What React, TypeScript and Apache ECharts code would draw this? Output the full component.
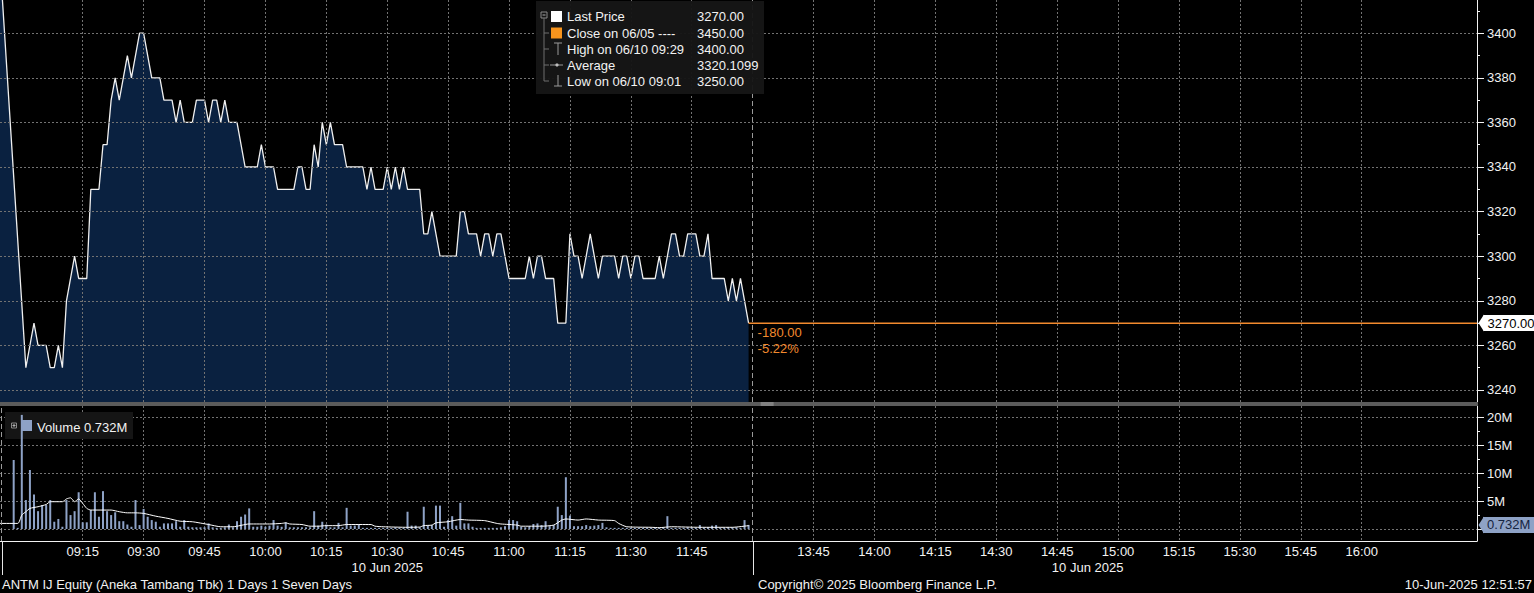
import React, { useEffect, useRef } from 'react';
import * as echarts from 'echarts';

// ---------- data ----------
const TIME_LABELS = ['09:15', '09:30', '09:45', '10:00', '10:15', '10:30', '10:45', '11:00', '11:15', '11:30', '11:45',
  '13:45', '14:00', '14:15', '14:30', '14:45', '15:00', '15:15', '15:30', '15:45', '16:00'];
const PRICE_TICKS = [3240, 3260, 3280, 3300, 3320, 3340, 3360, 3380, 3400];
const VOLUME_TICKS = [0, 5, 10, 15, 20]; // millions

const PREV_CLOSE = 3450; // close on 06/05
const AVERAGE_PRICE = 3320.1099;

const PRICE_POINTS: [string, number][] = [
  ['09:01', 3250], ['09:03', 3270], ['09:04', 3260], ['09:06', 3260], ['09:07', 3250], ['09:08', 3250], ['09:09', 3260], ['09:10', 3250], ['09:11', 3280], ['09:13', 3300],
  ['09:14', 3290], ['09:16', 3290], ['09:17', 3330], ['09:19', 3330], ['09:20', 3350], ['09:21', 3350], ['09:22', 3370], ['09:23', 3380], ['09:24', 3370], ['09:26', 3390],
  ['09:27', 3380], ['09:29', 3400], ['09:30', 3400], ['09:32', 3380], ['09:34', 3380], ['09:35', 3370], ['09:37', 3370], ['09:38', 3360], ['09:39', 3370], ['09:40', 3360],
  ['09:42', 3360], ['09:43', 3370], ['09:45', 3370], ['09:46', 3360], ['09:47', 3370], ['09:48', 3370], ['09:49', 3360], ['09:50', 3370], ['09:51', 3360], ['09:53', 3360],
  ['09:55', 3340], ['09:58', 3340], ['09:59', 3350], ['10:00', 3340], ['10:02', 3340], ['10:03', 3330], ['10:07', 3330], ['10:08', 3340], ['10:09', 3340], ['10:10', 3330],
  ['10:11', 3330], ['10:12', 3350], ['10:13', 3340], ['10:14', 3360], ['10:15', 3350], ['10:16', 3360], ['10:17', 3350], ['10:19', 3350], ['10:20', 3340], ['10:24', 3340],
  ['10:25', 3330], ['10:26', 3340], ['10:27', 3330], ['10:29', 3330], ['10:30', 3340], ['10:31', 3330], ['10:32', 3340], ['10:33', 3330], ['10:34', 3340], ['10:35', 3330],
  ['10:38', 3330], ['10:39', 3310], ['10:40', 3310], ['10:41', 3320], ['10:43', 3300], ['10:47', 3300], ['10:48', 3320], ['10:49', 3320], ['10:50', 3310], ['10:52', 3310],
  ['10:53', 3300], ['10:54', 3310], ['10:55', 3310], ['10:56', 3300], ['10:57', 3310], ['10:58', 3310], ['11:00', 3290], ['11:04', 3290], ['11:05', 3300], ['11:06', 3290],
  ['11:07', 3300], ['11:08', 3300], ['11:09', 3290], ['11:11', 3290], ['11:12', 3270], ['11:14', 3270], ['11:15', 3310], ['11:16', 3300], ['11:17', 3300], ['11:18', 3290],
  ['11:20', 3310], ['11:22', 3290], ['11:23', 3300], ['11:26', 3300], ['11:27', 3290], ['11:28', 3300], ['11:29', 3300], ['11:30', 3290], ['11:31', 3300], ['11:32', 3300],
  ['11:33', 3290], ['11:36', 3290], ['11:37', 3300], ['11:38', 3290], ['11:39', 3300], ['11:40', 3310], ['11:41', 3310], ['11:42', 3300], ['11:43', 3300], ['11:44', 3310],
  ['11:46', 3310], ['11:47', 3300], ['11:48', 3300], ['11:49', 3310], ['11:50', 3290], ['11:53', 3290], ['11:54', 3280], ['11:55', 3290], ['11:56', 3280], ['11:57', 3290],
  ['11:59', 3270],
];

const VOLUME_START = '08:58';
const VOLUME_VALUES = [ // millions, one bar per minute
  12.4, 0.2, 20.5, 5.2, 10.6, 6.2, 3.2, 4.3, 4.3, 5.2,
  1.3, 1.8, 0.4, 5.2, 2.5, 3.2, 6.6, 1.2, 1.2, 3.4,
  6.6, 2.2, 6.8, 3.2, 2.5, 3.0, 1.4, 1.4, 0.8, 0.4,
  5.2, 0.7, 3.6, 2.2, 1.6, 1.3, 0.4, 1.0, 1.0, 1.0,
  1.4, 0.4, 1.6, 0.4, 0.3, 0.3, 0.3, 0.3, 1.0, 0.3,
  0.2, 0.2, 0.3, 0.8, 0.3, 1.4, 2.2, 2.6, 3.7, 0.4,
  0.4, 0.6, 0.4, 0.6, 1.6, 0.6, 0.4, 1.2, 0.3, 0.3,
  0.3, 0.3, 0.3, 0.3, 3.2, 0.6, 1.3, 0.8, 0.3, 0.3,
  1.1, 0.3, 3.8, 0.6, 0.6, 0.8, 0.2, 0.2, 0.2, 0.2,
  0.2, 0.2, 0.2, 0.2, 0.3, 0.2, 0.2, 3.1, 0.6, 0.6,
  0.3, 4.0, 0.6, 0.7, 4.2, 4.2, 0.4, 1.6, 2.3, 0.6,
  4.7, 1.0, 1.0, 0.4, 0.2, 0.2, 0.2, 0.2, 0.2, 0.2,
  0.3, 0.5, 1.6, 1.6, 1.4, 0.4, 0.3, 0.5, 0.9, 1.0,
  0.7, 1.4, 0.5, 0.7, 4.0, 2.5, 9.3, 2.4, 0.5, 0.5,
  0.5, 0.7, 0.5, 0.6, 0.7, 1.1, 0.3, 0.2, 0.2, 0.2,
  0.2, 0.2, 0.2, 0.2, 0.2, 0.2, 0.2, 0.2, 0.2, 0.2,
  0.2, 2.3, 0.2, 0.2, 0.2, 0.2, 0.3, 0.2, 0.2, 0.7,
  0.2, 0.3, 0.6, 0.7, 0.2, 0.2, 0.3, 0.3, 0.3, 0.2,
  1.6, 0.732,
];

const AVG_VOLUME_POINTS: [string, number][] = [
  ['08:54', 1.0], ['08:59', 1.0], ['09:00', 2.5], ['09:01', 3.1], ['09:02', 3.7], ['09:04', 4.0], ['09:06', 4.4], ['09:07', 4.9], ['09:10', 4.9], ['09:11', 5.4],
  ['09:12', 5.6], ['09:13', 4.9], ['09:14', 5.4], ['09:15', 4.6], ['09:16', 3.7], ['09:17', 3.4], ['09:22', 3.4], ['09:24', 3.1], ['09:26', 2.9], ['09:28', 2.9],
  ['09:30', 2.8], ['09:33', 2.3], ['09:36', 1.9], ['09:39', 1.4], ['09:42', 1.3], ['09:46', 0.8], ['09:49', 0.4], ['09:52', 0.4], ['09:56', 0.9], ['10:01', 0.9],
  ['10:04', 1.0], ['10:05', 1.1], ['10:06', 0.9], ['10:09', 0.8], ['10:11', 0.5], ['10:13', 0.5], ['10:15', 0.6], ['10:18', 0.6], ['10:20', 0.8], ['10:26', 0.8],
  ['10:27', 0.5], ['10:29', 0.4], ['10:35', 0.3], ['10:38', 0.35], ['10:39', 0.6], ['10:41', 0.7], ['10:42', 1.1], ['10:45', 1.3], ['10:48', 1.7], ['10:50', 1.6],
  ['10:54', 1.5], ['10:57', 1.0], ['10:58', 0.9], ['11:02', 0.7], ['11:03', 0.5], ['11:08', 0.5], ['11:11', 0.7], ['11:13', 1.6], ['11:14', 1.8], ['11:17', 1.6],
  ['11:19', 1.8], ['11:22', 1.6], ['11:26', 1.5], ['11:27', 1.0], ['11:29', 0.4], ['11:35', 0.3], ['11:37', 0.24], ['11:40', 0.4], ['11:47', 0.3], ['11:55', 0.3],
  ['11:59', 0.6],
];

// ---------- styling / layout ----------
const FONT = '"Liberation Sans", Arial, Helvetica, sans-serif';
const WHITE = '#f2f2f2';
const GRID_LINE = '#727272';
const ORANGE = '#f28a2e';
const VOL_BLUE = '#8ea2c6';
const AREA = '#0a2140';
const BREAK_LINE = '#9a9a9a';

const X_MIN = -5.37; // view extent in session minutes
const X_MAX = 358.4;
const PREV_CLOSE_SLOT = -6; // last slot of the previous session (06/05)
const DAY_BREAK_SLOT = -5;
const P_MIN = 3234.6;
const P_MAX = 3414.9;
const V_MIN = -2.16;
const V_MAX = 22.1;

const clock = (t: string) => {
  const [h, m] = t.split(':').map(Number);
  return h * 60 + m;
};
// minutes since 09:00, the afternoon session (13:30) joined right after the morning one
const slot = (t: string) => {
  const c = clock(t);
  return c >= clock('13:30') ? 180 + (c - clock('13:30')) : c - clock('09:00');
};

const X_TICKS = TIME_LABELS.map(slot);
const SESSION_BREAK_SLOT = slot('13:30');

const LAST_PRICE = PRICE_POINTS[PRICE_POINTS.length - 1][1];
const LAST_SLOT = slot(PRICE_POINTS[PRICE_POINTS.length - 1][0]);
const HIGH = PRICE_POINTS.reduce((a, b) => (b[1] > a[1] ? b : a));
const LOW = PRICE_POINTS.reduce((a, b) => (b[1] < a[1] ? b : a));
const LAST_VOLUME = VOLUME_VALUES[VOLUME_VALUES.length - 1];
const VOL_START_SLOT = slot(VOLUME_START);
const LAST_VOL_SLOT = VOL_START_SLOT + VOLUME_VALUES.length - 1;

function buildOption() {
  const axisText = { color: WHITE, fontSize: 13, fontFamily: FONT };
  const dotted = { color: GRID_LINE, type: [2, 2], width: 1 };
  const breakLine = { color: BREAK_LINE, type: [5, 3], width: 1 };
  const gridBase = { left: 0, right: 57, outerBoundsMode: 'none', containLabel: false };
  const priceData = [[PREV_CLOSE_SLOT, PREV_CLOSE], ...PRICE_POINTS.map(([t, v]) => [slot(t), v])];
  const volData = VOLUME_VALUES.map((v, i) => [VOL_START_SLOT + i, v]);
  const avgData = AVG_VOLUME_POINTS.map(([t, v]) => [slot(t), v]);
  const xFormatter = (v: number) => {
    const i = X_TICKS.indexOf(v);
    return i >= 0 ? TIME_LABELS[i] : '';
  };
  const hiddenLine = { color: 'rgba(0,0,0,0)', width: 0, type: 'solid' };

  return {
    animation: false,
    backgroundColor: '#000',
    grid: [
      { ...gridBase, top: 0, height: 402 },
      { ...gridBase, top: 406, height: 135 },
      { ...gridBase, top: 0, height: 402 },
      { ...gridBase, top: 406, height: 135 },
    ],
    xAxis: [
      {
        type: 'value', gridIndex: 0, min: X_MIN, max: X_MAX, z: 3,
        axisLine: { show: false, onZero: false },
        axisTick: { show: false, customValues: X_TICKS },
        axisLabel: { show: false, customValues: X_TICKS },
        splitLine: { show: true, lineStyle: dotted },
      },
      {
        type: 'value', gridIndex: 1, min: X_MIN, max: X_MAX, z: 1, position: 'bottom',
        axisLine: { show: true, onZero: false, lineStyle: { color: WHITE, width: 1 } },
        axisTick: { show: false, customValues: X_TICKS },
        axisLabel: { ...axisText, customValues: X_TICKS, formatter: xFormatter, margin: 4 },
        splitLine: { show: true, lineStyle: dotted },
      },
      { type: 'value', gridIndex: 2, min: X_MIN, max: X_MAX, show: false },
      { type: 'value', gridIndex: 3, min: X_MIN, max: X_MAX, show: false },
    ],
    yAxis: [
      {
        type: 'value', gridIndex: 0, position: 'right', min: P_MIN, max: P_MAX, z: 3,
        axisLine: { show: true, onZero: false, lineStyle: { color: WHITE, width: 1 } },
        axisTick: { show: true, length: 7, customValues: PRICE_TICKS, lineStyle: { color: WHITE } },
        axisLabel: { ...axisText, customValues: PRICE_TICKS, margin: 10, formatter: (v: number) => String(v) },
        splitLine: { show: true, lineStyle: dotted },
      },
      {
        type: 'value', gridIndex: 1, position: 'right', min: V_MIN, max: V_MAX, z: 1,
        axisLine: { show: true, onZero: false, lineStyle: { color: WHITE, width: 1 } },
        axisTick: { show: true, length: 7, customValues: VOLUME_TICKS, lineStyle: { color: WHITE } },
        axisLabel: { ...axisText, customValues: VOLUME_TICKS, margin: 10, formatter: (v: number) => (v === 0 ? '' : `${v}M`) },
        splitLine: { show: true, lineStyle: dotted },
      },
      {
        type: 'value', gridIndex: 2, position: 'right', min: P_MIN, max: P_MAX, z: 3,
        axisLine: { show: false, onZero: false },
        axisTick: { show: true, length: 3, customValues: PRICE_TICKS.map((v) => v + 10), lineStyle: { color: WHITE } },
        axisLabel: { show: false }, splitLine: { show: false },
      },
      {
        type: 'value', gridIndex: 3, position: 'right', min: V_MIN, max: V_MAX, z: 3,
        axisLine: { show: false, onZero: false },
        axisTick: { show: true, length: 3, customValues: VOLUME_TICKS.map((v) => v + 2.5), lineStyle: { color: WHITE } },
        axisLabel: { show: false }, splitLine: { show: false },
      },
    ],
    series: [
      {
        type: 'line', name: 'Last Price', xAxisIndex: 0, yAxisIndex: 0, data: priceData,
        symbol: 'none', showSymbol: false, clip: true, silent: true, z: 2,
        lineStyle: { color: '#f0f0f0', width: 1.3 },
        areaStyle: { color: AREA, opacity: 1, origin: 'start' },
        markLine: {
          silent: true, symbol: ['none', 'none'], z: 2,
          data: [
            { xAxis: DAY_BREAK_SLOT, lineStyle: breakLine, label: { show: false } },
            { xAxis: SESSION_BREAK_SLOT, lineStyle: breakLine, label: { show: false } },
          ],
        },
      },
      {
        type: 'bar', name: 'Volume', xAxisIndex: 1, yAxisIndex: 1, data: volData,
        barWidth: 2, silent: true, z: 2, itemStyle: { color: VOL_BLUE },
        markLine: {
          silent: true, symbol: ['none', 'none'],
          data: [
            [
              {
                coord: [LAST_VOL_SLOT, LAST_VOLUME], lineStyle: hiddenLine,
                label: {
                  show: true, position: 'end', distance: 6, formatter: `${LAST_VOLUME.toFixed(3)}M`, color: '#15243f',
                  backgroundColor: VOL_BLUE, padding: [2, 4, 1, 4], fontSize: 13, fontFamily: FONT,
                },
              },
              { coord: [X_MAX, LAST_VOLUME], lineStyle: hiddenLine },
            ],
            { xAxis: DAY_BREAK_SLOT, lineStyle: breakLine, label: { show: false } },
            { xAxis: SESSION_BREAK_SLOT, lineStyle: breakLine, label: { show: false } },
          ],
        },
      },
      {
        type: 'line', name: 'Average Volume', xAxisIndex: 1, yAxisIndex: 1, data: avgData,
        symbol: 'none', showSymbol: false, clip: true, silent: true, smooth: 0.2, z: 3,
        lineStyle: { color: '#ffffff', width: 1 },
      },
    ],
  };
}

function buildGraphic(chart: any) {
  const px = (xi: number, v: number) => chart.convertToPixel({ xAxisIndex: xi }, v) as number;
  const py = (yi: number, v: number) => chart.convertToPixel({ yAxisIndex: yi }, v) as number;
  const font = (size: number) => `${size}px ${FONT}`;
  const text = (t: string, x: number, y: number, extra: any = {}) => ({
    type: 'text', x, y, silent: true, z: extra.z ?? 11,
    style: {
      text: t, fill: extra.fill ?? WHITE, font: font(extra.size ?? 13), textAlign: extra.align ?? 'left',
      verticalAlign: 'middle', textVerticalAlign: 'middle',
      ...(extra.bg ? { backgroundColor: extra.bg, padding: [2, 4, 1, 4] } : {}),
    },
  });
  const seg = (x1: number, y1: number, x2: number, y2: number, stroke: string, z = 11) => ({
    type: 'line', silent: true, z, shape: { x1, y1, x2, y2 }, style: { stroke, lineWidth: 1 },
  });

  const lastX = px(0, LAST_SLOT);
  const lastY = py(0, LAST_PRICE);
  const volTagY = py(1, LAST_VOLUME);
  const axisX = px(1, X_MAX);
  const chg = LAST_PRICE - PREV_CLOSE;
  const pct = (chg / PREV_CLOSE) * 100;
  const bottomY = py(1, V_MIN);
  const topVolY = py(1, V_MAX);
  const priceBottom = py(0, P_MIN);

  const legendRows: [string, string][] = [
    ['Last Price', LAST_PRICE.toFixed(2)],
    ['Close on 06/05 ----', PREV_CLOSE.toFixed(2)],
    [`High on 06/10 ${HIGH[0]}`, HIGH[1].toFixed(2)],
    ['Average', AVERAGE_PRICE.toFixed(4)],
    [`Low on 06/10 ${LOW[0]}`, LOW[1].toFixed(2)],
  ];
  const rowY = [16.5, 33, 49, 65, 81];
  const g: any[] = [];

  // last price reference line (orange) and its tag
  const ly = Math.round(lastY) - 0.5;
  g.push({ type: 'rect', silent: true, z: 20, shape: { x: lastX, y: ly, width: axisX - lastX, height: 1.6 }, style: { fill: ORANGE, stroke: 'none' } });
  g.push({ type: 'polygon', silent: true, z: 12, shape: { points: [[axisX + 1.5, lastY], [axisX + 7, lastY - 8.5], [axisX + 7, lastY + 8.5]] }, style: { fill: '#ffffff' } });
  g.push(text(LAST_PRICE.toFixed(2), axisX + 6.5, lastY, { fill: '#000000', bg: '#ffffff', z: 12 }));

  // main legend box
  g.push({ type: 'rect', silent: true, z: 10, shape: { x: 536, y: 1, width: 228, height: 93 }, style: { fill: 'rgba(22,22,22,0.96)' } });
  g.push({ type: 'rect', silent: true, z: 11, shape: { x: 541, y: 12, width: 6, height: 6 }, style: { fill: 'none', stroke: '#8a8a8a', lineWidth: 1 } });
  g.push(seg(542.5, 15, 545.5, 15, '#b0b0b0'));
  g.push(seg(544, 18, 544, 81, '#6e6e6e'));
  [33, 49, 65, 81].forEach((y) => g.push(seg(544, y, 549, y, '#6e6e6e')));
  g.push({ type: 'rect', silent: true, z: 11, shape: { x: 551, y: 11, width: 11, height: 11 }, style: { fill: '#ffffff' } });
  g.push({ type: 'rect', silent: true, z: 11, shape: { x: 551, y: 27.5, width: 11, height: 11 }, style: { fill: '#f7941d' } });
  g.push(seg(554, 43, 562, 43, '#9a9a9a'));
  g.push(seg(558, 43, 558, 55, '#9a9a9a'));
  g.push(seg(550, 65, 563, 65, '#9a9a9a'));
  g.push({ type: 'circle', silent: true, z: 11, shape: { cx: 557, cy: 65, r: 1.6 }, style: { fill: '#bdbdbd' } });
  g.push(seg(558, 75, 558, 86, '#9a9a9a'));
  g.push(seg(554, 86, 562, 86, '#9a9a9a'));
  legendRows.forEach(([label, val], i) => {
    g.push(text(label, 567, rowY[i]));
    g.push(text(val, 697, rowY[i]));
  });

  // volume legend box
  g.push({ type: 'rect', silent: true, z: 1, shape: { x: 5, y: 412, width: 128, height: 27 }, style: { fill: '#151515' } });
  g.push({ type: 'rect', silent: true, z: 11, shape: { x: 11.5, y: 423, width: 5, height: 5 }, style: { fill: 'none', stroke: '#8a8a8a', lineWidth: 1 } });
  g.push(seg(12.5, 425.5, 15.5, 425.5, '#b0b0b0'));
  g.push(seg(14, 424, 14, 427, '#b0b0b0'));
  g.push({ type: 'rect', silent: true, z: 1, shape: { x: 21, y: 420, width: 11, height: 11 }, style: { fill: VOL_BLUE } });
  g.push(text(`Volume ${LAST_VOLUME.toFixed(3)}M`, 37, 427.5));

  // separator between panes and its handle
  g.push({ type: 'rect', silent: true, z: 12, shape: { x: 0, y: priceBottom, width: axisX + 1, height: topVolY - priceBottom }, style: { fill: '#5b5b5b' } });
  const hx = px(0, SESSION_BREAK_SLOT) + 8;
  g.push(seg(hx, priceBottom + 1, hx + 13, priceBottom + 1, '#a8a8a8', 13));
  g.push(seg(hx, priceBottom + 3, hx + 13, priceBottom + 3, '#a8a8a8', 13));

  // change labels next to the last price
  g.push(text(chg.toFixed(2), lastX + 9, lastY + 9, { fill: ORANGE }));
  g.push(text(`${pct.toFixed(2)}%`, lastX + 9, lastY + 25, { fill: ORANGE }));

  // volume tag arrow
  g.push({ type: 'polygon', silent: true, z: 12, shape: { points: [[axisX + 1.5, volTagY], [axisX + 7, volTagY - 8.5], [axisX + 7, volTagY + 8.5]] }, style: { fill: VOL_BLUE } });

  // session separators under the time axis
  [DAY_BREAK_SLOT, SESSION_BREAK_SLOT].forEach((s) => {
    const x = Math.round(px(1, s)) + 0.5;
    g.push(seg(x, bottomY, x, bottomY + 34, '#e6e6e6'));
  });

  // date labels centred on each session
  g.push(text('10 Jun 2025', px(1, (slot('09:00') + slot('12:00')) / 2), 567, { align: 'center' }));
  g.push(text('10 Jun 2025', px(1, (slot('13:30') + slot('16:15')) / 2), 567, { align: 'center' }));

  // footer
  g.push(text('ANTM IJ Equity (Aneka Tambang Tbk) 1 Days 1 Seven Days', 2, 584.5));
  g.push(text('Copyright\u00A9 2025 Bloomberg Finance L.P.', 758, 584.5));
  g.push(text('10-Jun-2025 12:51:57', 1532, 584.5, { align: 'right' }));
  return g;
}

export default function App() {
  const ref = useRef<HTMLDivElement>(null);
  useEffect(() => {
    document.body.style.margin = '0';
    document.body.style.background = '#000';
    const chart = echarts.init(ref.current as HTMLDivElement, null, { renderer: 'svg' });
    chart.setOption(buildOption() as any);
    chart.setOption({ graphic: buildGraphic(chart) } as any);
    return () => chart.dispose();
  }, []);
  return <div ref={ref} style={{ width: 1534, height: 593, background: '#000' }} />;
}
